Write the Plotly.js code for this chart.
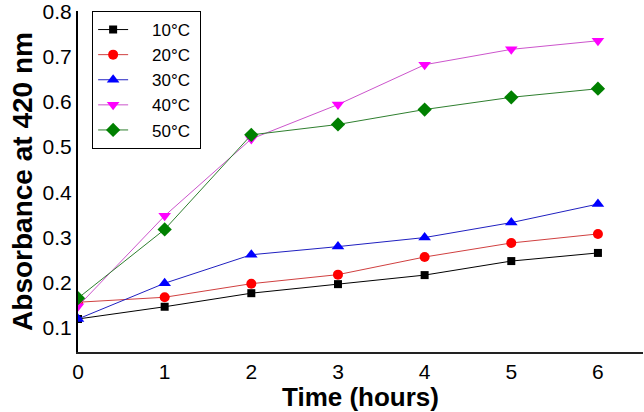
<!DOCTYPE html>
<html><head><meta charset="utf-8">
<script src="https://cdn.plot.ly/plotly-3.0.1.min.js"></script>
<style>html,body{margin:0;padding:0;background:#fff}#chart{width:644px;height:412px}</style>
</head><body><div id="chart"></div>
<script>
const hours = [0, 1, 2, 3, 4, 5, 6];
const seriesNames = ["10°C", "20°C", "30°C", "40°C", "50°C"];
const t10 = [0.12, 0.147, 0.177, 0.197, 0.217, 0.248, 0.266];
const t20 = [0.157, 0.168, 0.198, 0.218, 0.257, 0.288, 0.308];
const t30 = [0.12, 0.199, 0.262, 0.28, 0.30, 0.333, 0.374];
const t40 = [0.148, 0.348, 0.518, 0.594, 0.682, 0.716, 0.735];
const t50 = [0.166, 0.318, 0.527, 0.55, 0.583, 0.61, 0.629];
const yTicks = [0.1, 0.2, 0.3, 0.4, 0.5, 0.6, 0.7, 0.8];
const values = [t10, t20, t30, t40, t50];
const markerColors = ["#000000", "#ff0000", "#0000ff", "#ff00ff", "#008000"];
const lineColors = ["#000000", "#d04040", "#2020c0", "#cc55cc", "#2f7f2f"];
const symbols = ["square", "circle", "triangle-up", "triangle-down", "diamond"];
const sizes = [8, 10, 11, 11, 11];
const pad = "\u00a0\u00a0\u00a0\u00a0";

const traces = seriesNames.map((n, i) => ({
  x: hours, y: values[i], name: pad + n + "\u00a0", type: "scatter", mode: "lines+markers",
  line: {color: lineColors[i], width: 1},
  marker: {color: markerColors[i], symbol: symbols[i], size: sizes[i]}
}));

const layout = {
  width: 644, height: 412,
  margin: {l: 78, r: 1, t: 11, b: 60},
  paper_bgcolor: "#fff", plot_bgcolor: "#fff",
  font: {family: "Arial, 'Liberation Sans', sans-serif", color: "#000", size: 20},
  xaxis: {
    range: [0, 6.52], tickvals: hours, ticktext: hours.map(String),
    showgrid: false, zeroline: false, showline: true, linecolor: "#222", linewidth: 2,
    ticks: "", tickfont: {size: 21}, ticklabeloverflow: "allow",
    title: {text: "Time (hours)", font: {size: 26, weight: "bold"}, standoff: 4}
  },
  yaxis: {
    range: [0.047, 0.8008], tickvals: yTicks, ticktext: yTicks.map(v => v.toFixed(1)),
    showgrid: false, zeroline: false, showline: true, linecolor: "#000", linewidth: 2,
    ticks: "", tickfont: {size: 21}, ticklabelstandoff: 0, ticklabeloverflow: "allow",
    title: {text: "Absorbance at 420 nm", font: {size: 28, weight: "bold"}, standoff: 2}
  },
  showlegend: true,
  legend: {x: 0.025, y: 1.0, xanchor: "left", yanchor: "top",
    bordercolor: "#000", borderwidth: 1, bgcolor: "#fff",
    font: {size: 17}}
};
Plotly.newPlot("chart", traces, layout, {displayModeBar: false});
</script></body></html>
